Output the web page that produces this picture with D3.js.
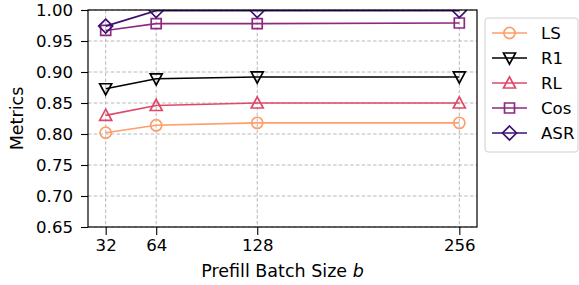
<!DOCTYPE html>
<html>
<head>
<meta charset="utf-8">
<script src="https://cdn.jsdelivr.net/npm/d3@7"></script>
<style>
  body { margin: 0; background: #fff; }
  svg, svg text { font-family: "DejaVu Sans", sans-serif; }
  .grid line { stroke: #b0b0b0; stroke-width: 0.9; stroke-dasharray: 3.5,2.2; }
  .axis path { display: none; }
  .axis line { stroke: #000; stroke-width: 1.1; }
  .axis text { font-family: "DejaVu Sans", sans-serif; font-size: 16.6px; fill: #000; }
</style>
</head>
<body>
<svg id="chart" width="579" height="285"></svg>
<script>
// batch sizes on the x axis
var batchSizes = [32, 64, 128, 256];
var yTicks = [0.65, 0.70, 0.75, 0.80, 0.85, 0.90, 0.95, 1.00];

var seriesNames = ["LS", "R1", "RL", "Cos", "ASR"];
var seriesColors = ["#fd9e6b", "#000004", "#de4968", "#8c2981", "#3b0f70"];
var seriesMarkers = ["circle", "tridown", "triup", "square", "diamond"];

var lsValues  = [0.802, 0.814, 0.818, 0.818];
var r1Values  = [0.873, 0.889, 0.892, 0.892];
var rlValues  = [0.830, 0.846, 0.850, 0.850];
var cosValues = [0.967, 0.978, 0.978, 0.979];
var asrValues = [0.974, 0.999, 0.999, 0.999];

var allValues = [lsValues, r1Values, rlValues, cosValues, asrValues];

var svg = d3.select("#chart");
var plotL = 88, plotR = 477, plotT = 10, plotB = 227;

var x = d3.scaleLinear().domain([20.8, 267.2]).range([plotL, plotR]);
var y = d3.scaleLinear().domain([0.65, 1.0]).range([plotB, plotT]);

svg.append("defs").append("clipPath").attr("id", "plotclip")
  .append("rect").attr("x", plotL).attr("y", plotT)
  .attr("width", plotR - plotL).attr("height", plotB - plotT);

// grid
var grid = svg.append("g").attr("class", "grid");
grid.selectAll(".gx").data(batchSizes).enter().append("line")
  .attr("x1", function(d){ return x(d); }).attr("x2", function(d){ return x(d); })
  .attr("y1", plotT).attr("y2", plotB);
grid.selectAll(".gy").data(yTicks).enter().append("line")
  .attr("x1", plotL).attr("x2", plotR)
  .attr("y1", function(d){ return y(d); }).attr("y2", function(d){ return y(d); });

// axes
svg.append("g").attr("class", "axis")
  .attr("transform", "translate(0," + plotB + ")")
  .call(d3.axisBottom(x).tickValues(batchSizes).tickSize(8).tickPadding(4).tickFormat(d3.format("d")));
svg.append("g").attr("class", "axis")
  .attr("transform", "translate(" + plotL + ",0)")
  .call(d3.axisLeft(y).tickValues(yTicks).tickSize(7).tickPadding(8).tickFormat(d3.format(".2f")));
svg.selectAll(".axis").attr("font-family", null);

function markerPath(kind) {
  if (kind == "circle") return d3.symbol().type(d3.symbolCircle).size(Math.PI * 5.6 * 5.6)();
  if (kind == "square") return "M-5,-5L5,-5L5,5L-5,5Z";
  if (kind == "diamond") return "M0,-7L7,0L0,7L-7,0Z";
  if (kind == "triup") return "M0,-6.2L6,5L-6,5Z";
  if (kind == "tridown") return "M0,6.2L6,-5L-6,-5Z";
}

var line = d3.line()
  .x(function(d, i){ return x(batchSizes[i]); })
  .y(function(d){ return y(d); });

var plot = svg.append("g").attr("clip-path", "url(#plotclip)");
allValues.forEach(function(vals, k) {
  var g = plot.append("g");
  g.append("path").attr("d", line(vals))
    .attr("fill", "none").attr("stroke", seriesColors[k]).attr("stroke-width", 1.6);
  g.selectAll("path.mk").data(vals).enter().append("path")
    .attr("class", "mk")
    .attr("d", markerPath(seriesMarkers[k]))
    .attr("transform", function(d, i){ return "translate(" + x(batchSizes[i]) + "," + y(d) + ")"; })
    .attr("fill", "none").attr("stroke", seriesColors[k]).attr("stroke-width", 1.7);
});

// frame
svg.append("rect").attr("x", plotL).attr("y", plotT)
  .attr("width", plotR - plotL).attr("height", plotB - plotT)
  .attr("fill", "none").attr("stroke", "#000").attr("stroke-width", 1.2);

// labels
svg.append("text").attr("x", (plotL + plotR) / 2).attr("y", 277)
  .attr("text-anchor", "middle").style("font-size", "17.5px")
  .html('Prefill Batch Size <tspan font-style="italic">b</tspan>');
svg.append("text").attr("transform", "translate(22.5," + (plotT + plotB) / 2 + ") rotate(-90)")
  .attr("text-anchor", "middle").style("font-size", "17.5px").text("Metrics");

// legend
var legend = svg.append("g");
legend.append("rect").attr("x", 485).attr("y", 18).attr("width", 93).attr("height", 134)
  .attr("rx", 3).attr("fill", "#fff").attr("fill-opacity", 0.8)
  .attr("stroke", "#d0d0d0").attr("stroke-width", 1);
seriesNames.forEach(function(name, k) {
  var ly = 33 + k * 25;
  legend.append("line").attr("x1", 492).attr("x2", 527).attr("y1", ly).attr("y2", ly)
    .attr("stroke", seriesColors[k]).attr("stroke-width", 1.6);
  legend.append("path").attr("d", markerPath(seriesMarkers[k]))
    .attr("transform", "translate(509.5," + ly + ")")
    .attr("fill", "none").attr("stroke", seriesColors[k]).attr("stroke-width", 1.7);
  legend.append("text").attr("x", 541).attr("y", ly + 6)
    .style("font-size", "16.6px").text(name);
});
</script>
</body>
</html>
